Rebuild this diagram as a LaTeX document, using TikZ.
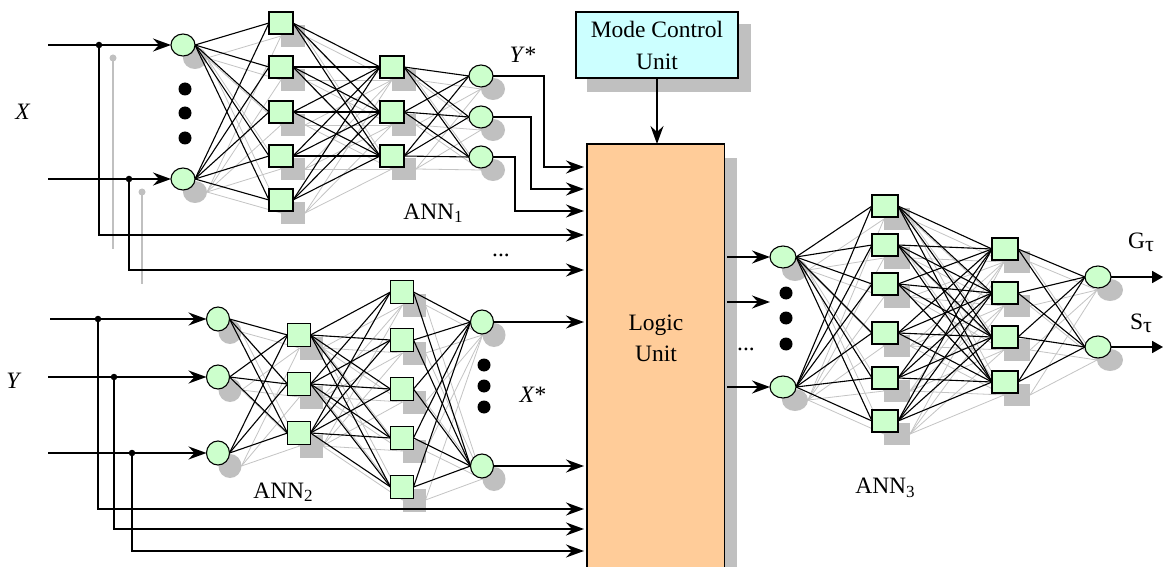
\documentclass[tikz,border=0pt]{standalone}
\usepackage{fontspec}
\setmainfont{Liberation Serif}
\usetikzlibrary{arrows.meta,shapes.geometric,calc}
\pgfdeclarelayer{bgl}
\pgfdeclarelayer{bg}
\pgfdeclarelayer{mid}
\pgfsetlayers{bgl,bg,mid,main}
\definecolor{neuron}{HTML}{CCFFCC}
\definecolor{modec}{HTML}{CCFFFF}
\definecolor{logicc}{HTML}{FFCC99}
\definecolor{shadowgray}{HTML}{C0C0C0}
\definecolor{ghostc}{HTML}{C4C4C4}
\newcommand{\sbs}[1]{\raisebox{-3.5pt}{\fontsize{17}{17}\selectfont #1}}
\newcommand{\sbtau}{\raisebox{-3pt}{\fontsize{22}{22}\selectfont τ}}
\newcommand{\neur}[6]{%
  \node[unit, #1, minimum width=#5, minimum height=#6] (#2) at (#3,#4) {};
  \begin{pgfonlayer}{bg}
    \node[unitshadow, #1, minimum width=#5, minimum height=#6] (s-#2) at ({#3+12},{#4+13}) {};
  \end{pgfonlayer}}
\newcommand{\fullconn}[4]{%
  \foreach \p in {1,...,#2}{%
    \foreach \q in {1,...,#4}{%
      \begin{pgfonlayer}{mid}\draw[conn] (#1\p.east) -- (#3\q.west);\end{pgfonlayer}%
      \begin{pgfonlayer}{bgl}\draw[ghostline] (s-#1\p.east) -- (s-#3\q.west);\end{pgfonlayer}%
    }}}
\tikzset{
  unit/.style={draw=black, line width=1.1pt, fill=neuron, inner sep=0pt, outer sep=0pt},
  unitshadow/.style={fill=shadowgray, draw=none, inner sep=0pt, outer sep=0pt},
  conn/.style={line width=1.1pt, black},
  ghostline/.style={line width=0.8pt, ghostc},
  tip/.style={-{Stealth[length=18pt,width=13pt,inset=6pt]}},
  feed/.style={line width=1.8pt, tip},
  lfeed/.style={line width=1.8pt, tip, shorten >=3pt},
  thinfeed/.style={line width=1.4pt, tip, shorten >=3pt},
  outfeed/.style={line width=1.8pt, -{Triangle[length=11pt,width=12pt]}},
  jdot/.style={circle, fill=black, inner sep=0pt, minimum size=6.5pt},
  gdot/.style={circle, fill=shadowgray, inner sep=0pt, minimum size=7pt},
  gwire/.style={line width=1.7pt, draw=shadowgray},
  bigdot/.style={circle, fill=black, inner sep=0pt, minimum size=13pt},
  lbl/.style={inner sep=0pt, font=\fontsize{23.5}{31}\selectfont, align=center},
  boxfont/.style={font=\fontsize{23.5}{32}\selectfont, align=center},
}
\begin{document}
\begin{tikzpicture}[x=1pt,y=-1pt]
\useasboundingbox (0,0) rectangle (1163,567);
\begin{pgfonlayer}{bgl}
\fill[white] (0,0) rectangle (1163,567);
\end{pgfonlayer}

% ---------- Mode control and logic unit ----------
\node[draw, line width=1.1pt, fill=modec, minimum width=162, minimum height=66, inner sep=0pt, boxfont] (mode) at (657,45) {Mode Control\\Unit};
\node[fill=logicc, minimum width=137, minimum height=423, inner sep=0pt, anchor=north west] (logic) at (587,144) {};
\draw[line width=1.1pt] (logic.south west) -- (logic.north west) -- (logic.north east) -- (logic.south east);
\node[lbl] (logictxt) at (656,338) {Logic\\Unit};
\begin{pgfonlayer}{bg}
  \fill[shadowgray] ($(mode.north west)+(12,13)$) rectangle ($(mode.south east)+(12,13)$);
  \fill[shadowgray] ($(logic.north east)+(0,14)$) rectangle ($(logic.south east)+(13,0)$);
\end{pgfonlayer}
\draw[line width=1.3pt, tip] (mode.south) -- (mode.south |- logic.north);

% ---------- ANN1 ----------
\neur{ellipse}{a1i1}{183}{45}{24}{22}
\neur{ellipse}{a1i2}{183}{179}{24}{22}
\foreach \y [count=\i] in {23,67,112,156,200} {\neur{rectangle}{a1h\i}{281}{\y}{24}{22}}
\foreach \y [count=\i] in {67,112,156} {\neur{rectangle}{a1g\i}{392}{\y}{24}{22}}
\foreach \y [count=\i] in {76,117,157} {\neur{ellipse}{a1o\i}{481}{\y}{24}{22}}
\fullconn{a1i}{2}{a1h}{5}
\fullconn{a1h}{5}{a1g}{3}
\fullconn{a1g}{3}{a1o}{3}
\foreach \y [count=\i] in {89,113,138} {\node[bigdot] (a1d\i) at (185,\y) {};}

% X inputs
\coordinate (xs1) at (48,45);
\coordinate (xs2) at (48,179);
\node[jdot] (xj1) at (99,45) {};
\node[jdot] (xj2) at (129,179) {};
\node[gdot] (gj1) at (113,58) {};
\node[gdot] (gj2) at (142,192) {};
\coordinate (gb1) at (113,249);
\coordinate (gb2) at (142,284);
\draw[gwire] (gj1.center) -- (gb1);
\draw[gwire] (gj2.center) -- (gb2);
\draw[feed] (xs1) -- (a1i1);
\draw[feed] (xs2) -- (a1i2);
\coordinate (xb1) at (99,235);
\coordinate (xb2) at (129,270);
\draw[lfeed] (xj1.center) -- (xb1) -- (xb1 -| logic.west);
\draw[lfeed] (xj2.center) -- (xb2) -- (xb2 -| logic.west);
% ANN1 outputs
\coordinate (r1) at (544,167);
\coordinate (r2) at (531,189);
\coordinate (r3) at (515,211);
\draw[thinfeed] (a1o1.east) -| (r1) -- (r1 -| logic.west);
\draw[thinfeed] (a1o2.east) -| (r2) -- (r2 -| logic.west);
\draw[thinfeed] (a1o3.east) -| (r3) -- (r3 -| logic.west);

\node[lbl] (xlab) at (23,112) {\textit{X}};
\node[lbl] (ystar) at (523,55) {\textit{Y}*};
\node[lbl] (ann1) at (433,213) {ANN\sbs{1}};
\node[lbl] (dots1) at (501,255) {...};

% ---------- ANN2 ----------
\foreach \y [count=\i] in {319,377,453} {\neur{ellipse}{a2i\i}{218}{\y}{23}{24}}
\foreach \y [count=\i] in {335,384,433} {\neur{rectangle}{a2h\i}{299}{\y}{23}{23}}
\foreach \y [count=\i] in {292,340,389,438,487} {\neur{rectangle}{a2g\i}{402}{\y}{23}{23}}
\foreach \y [count=\i] in {322,466} {\neur{ellipse}{a2o\i}{482}{\y}{23}{24}}
\fullconn{a2i}{3}{a2h}{3}
\fullconn{a2h}{3}{a2g}{5}
\fullconn{a2g}{5}{a2o}{2}
\foreach \y [count=\i] in {365,386,407} {\node[bigdot] (a2d\i) at (484,\y) {};}

\coordinate (ys1) at (50,319);
\coordinate (ys2) at (48,377);
\coordinate (ys3) at (48,453);
\node[jdot] (yj1) at (98,319) {};
\node[jdot] (yj2) at (114,377) {};
\node[jdot] (yj3) at (132,453) {};
\draw[feed] (ys1) -- (a2i1);
\draw[feed] (ys2) -- (a2i2);
\draw[feed] (ys3) -- (a2i3);
\coordinate (yb1) at (98,509);
\coordinate (yb2) at (114,529);
\coordinate (yb3) at (132,551);
\draw[lfeed] (yj1.center) -- (yb1) -- (yb1 -| logic.west);
\draw[lfeed] (yj2.center) -- (yb2) -- (yb2 -| logic.west);
\draw[lfeed] (yj3.center) -- (yb3) -- (yb3 -| logic.west);
\draw[lfeed] (a2o1.east) -- (a2o1 -| logic.west);
\draw[lfeed] (a2o2.east) -- (a2o2 -| logic.west);

\node[lbl] (ylab) at (14,381) {\textit{Y}};
\node[lbl] (xstar) at (533,395) {\textit{X}*};
\node[lbl] (ann2) at (283,492) {ANN\sbs{2}};

% ---------- ANN3 ----------
\foreach \y [count=\i] in {257,387} {\neur{ellipse}{a3i\i}{783}{\y}{26}{22}}
\foreach \y [count=\i] in {206,245,284,333,378,421} {\neur{rectangle}{a3h\i}{885}{\y}{26}{22}}
\foreach \y [count=\i] in {249,293,337,382} {\neur{rectangle}{a3g\i}{1005}{\y}{26}{22}}
\foreach \y [count=\i] in {277,347} {\neur{ellipse}{a3o\i}{1098}{\y}{26}{22}}
\fullconn{a3i}{2}{a3h}{6}
\fullconn{a3h}{6}{a3g}{4}
\fullconn{a3g}{4}{a3o}{2}
\foreach \y [count=\i] in {293,318,344} {\node[bigdot] (a3d\i) at (786,\y) {};}

\coordinate (l3a) at (727,257);
\coordinate (l3b) at (727,302);
\coordinate (l3be) at (770,302);
\coordinate (l3c) at (727,387);
\draw[feed] (l3a) -- (a3i1);
\draw[feed] (l3b) -- (l3be);
\draw[feed] (l3c) -- (a3i2);
\coordinate (gout) at (1163,277);
\coordinate (sout) at (1163,347);
\draw[outfeed] (a3o1.east) -- (gout);
\draw[outfeed] (a3o2.east) -- (sout);

\node[lbl] (dots3) at (746,349) {...};
\node[lbl] (glab) at (1141,242) {G\sbtau};
\node[lbl] (slab) at (1141,323) {S\sbtau};
\node[lbl] (ann3) at (885,488) {ANN\sbs{3}};
\end{tikzpicture}
\end{document}
